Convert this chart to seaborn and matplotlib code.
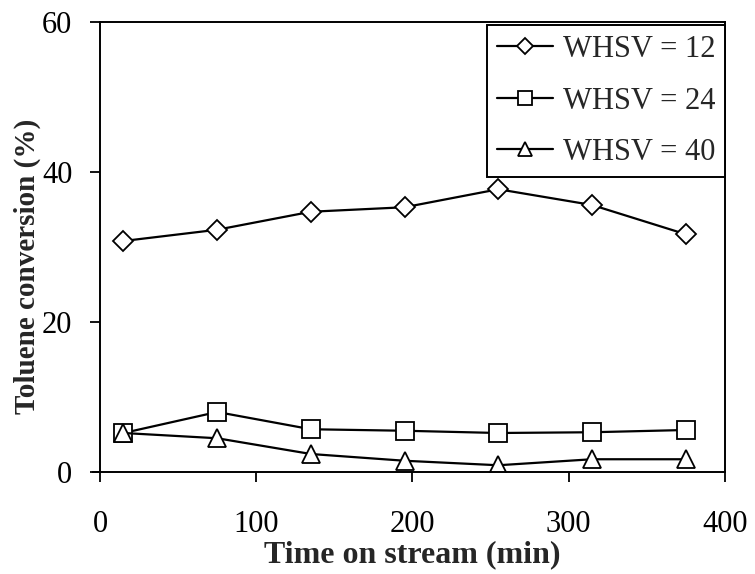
import matplotlib
matplotlib.use("Agg")
import matplotlib.pyplot as plt
import seaborn as sns
import pandas as pd

time_min = [15, 75, 135, 195, 255, 315, 375]
whsv12 = [30.8, 32.3, 34.7, 35.3, 37.7, 35.6, 31.7]
whsv24 = [5.2, 8.0, 5.7, 5.5, 5.2, 5.3, 5.6]
whsv40 = [5.2, 4.5, 2.4, 1.5, 0.9, 1.7, 1.7]
labels = ["WHSV = 12", "WHSV = 24", "WHSV = 40"]

sns.set_style("ticks")
plt.rcParams['font.family'] = ['Liberation Serif', 'DejaVu Serif']

rows = []
for lab, vals in zip(labels, [whsv12, whsv24, whsv40]):
    for t, v in zip(time_min, vals):
        rows.append({"t": t, "v": v, "series": lab})
df = pd.DataFrame(rows)

fig = plt.figure(figsize=(7.55, 5.74), dpi=100)
ax = fig.add_axes([0.1325, 0.1777, 0.8275, 0.784])

sns.lineplot(data=df, x="t", y="v", hue="series", style="series",
             palette=["black"] * 3, markers=["D", "s", "^"], dashes=False,
             markersize=12, markerfacecolor="white", markeredgecolor="black",
             markeredgewidth=1.3, linewidth=1.6, ax=ax)

sizes = [10, 12.5, 12.5]
for line, ms in zip(ax.get_lines(), sizes):
    line.set_markersize(ms)
    line.set_markerfacecolor("white")

ax.set_xlim(0, 400)
ax.set_ylim(0, 60)
ax.set_xticks([0, 100, 200, 300, 400])
ax.set_yticks([0, 20, 40, 60])
ax.tick_params(axis="both", direction="out", length=7, width=1.3, labelsize=22, colors="black")
ax.tick_params(axis="x", pad=20)
ax.tick_params(axis="y", pad=13)
for s in ax.spines.values():
    s.set_linewidth(1.4)
    s.set_color("black")
ax.spines["bottom"].set_bounds(-4.5, 400)

ax.set_xlabel("Time on stream (min)", fontsize=23, fontweight="bold", labelpad=1)
ax.set_ylabel("Toluene conversion (%)", fontsize=21, fontweight="bold")
ax.yaxis.set_label_coords(-0.095, 0.458)

handles, labs = ax.get_legend_handles_labels()
for h, ms in zip(handles, sizes):
    h.set_markersize(ms * 0.85)
    h.set_markerfacecolor("white")
    h.set_markeredgecolor("black")
leg = ax.legend(handles, labs, loc="upper right", bbox_to_anchor=(1.003, 0.997),
                fontsize=22, frameon=True,
                fancybox=False, edgecolor="black", framealpha=1,
                borderaxespad=0.05, handlelength=1.85, handletextpad=0.3,
                labelspacing=0.74, borderpad=0.33)
leg.get_frame().set_linewidth(1.4)

fig.savefig("out.png", dpi=100)
